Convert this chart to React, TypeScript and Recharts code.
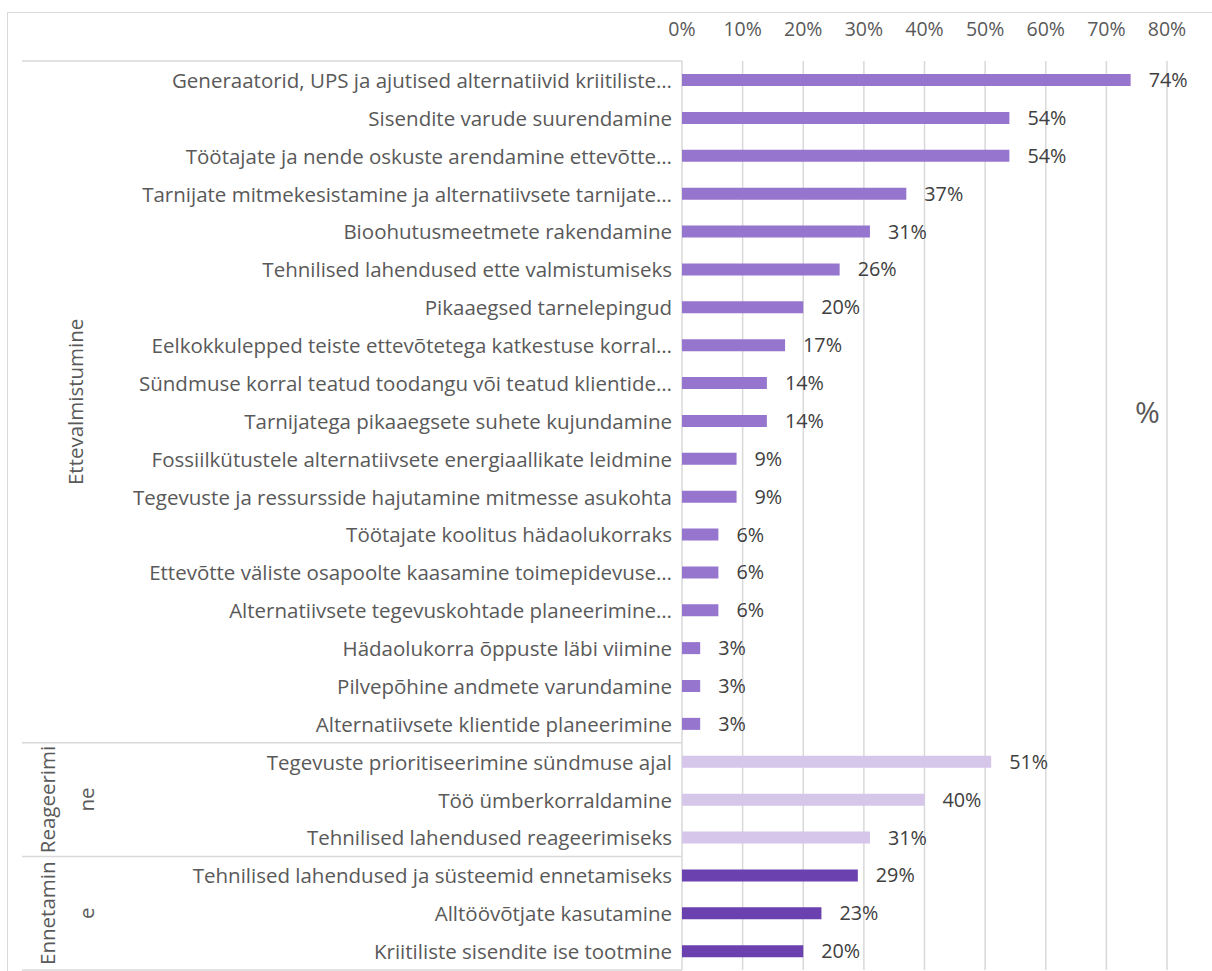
import React from 'react';
import { BarChart, Bar, XAxis, YAxis, CartesianGrid, Cell, LabelList } from 'recharts';

const categories = [
  'Generaatorid, UPS ja ajutised alternatiivid kriitiliste…',
  'Sisendite varude suurendamine ',
  'Töötajate ja nende oskuste arendamine ettevõtte…',
  'Tarnijate mitmekesistamine ja alternatiivsete tarnijate…',
  'Bioohutusmeetmete rakendamine',
  'Tehnilised lahendused ette valmistumiseks',
  'Pikaaegsed tarnelepingud',
  'Eelkokkulepped teiste ettevõtetega katkestuse korral…',
  'Sündmuse korral teatud toodangu või teatud klientide…',
  'Tarnijatega pikaaegsete suhete kujundamine',
  'Fossiilkütustele alternatiivsete energiaallikate leidmine',
  'Tegevuste ja ressursside hajutamine mitmesse asukohta',
  'Töötajate koolitus hädaolukorraks',
  'Ettevõtte väliste osapoolte kaasamine toimepidevuse…',
  'Alternatiivsete tegevuskohtade planeerimine…',
  'Hädaolukorra õppuste läbi viimine',
  'Pilvepõhine andmete varundamine',
  'Alternatiivsete klientide planeerimine',
  'Tegevuste prioritiseerimine sündmuse ajal',
  'Töö ümberkorraldamine',
  'Tehnilised lahendused reageerimiseks',
  'Tehnilised lahendused ja süsteemid ennetamiseks',
  'Alltöövõtjate kasutamine',
  'Kriitiliste sisendite ise tootmine',
];

const values = [
  0.74, 0.54, 0.54, 0.37, 0.31, 0.26, 0.2, 0.17, 0.14, 0.14, 0.09, 0.09,
  0.06, 0.06, 0.06, 0.03, 0.03, 0.03,
  0.51, 0.4, 0.31,
  0.29, 0.23, 0.2,
];

const groupLabels = [['Ettevalmistumine'], ['Reageerimi', 'ne'], ['Ennetamin', 'e']];
const groupSizes = [18, 3, 3];
const groupColors = ['#9575CD', '#D5C6EA', '#6A41AF'];
const xTicks = [0, 0.1, 0.2, 0.3, 0.4, 0.5, 0.6, 0.7, 0.8];

const W = 1212;
const H = 971;
const M_TOP = 21;
const X_AXIS_H = 40;
const M_BOTTOM = 1;
const Y_AXIS_W = 660;
const M_LEFT = 22;
const BAND = (H - M_TOP - X_AXIS_H - M_BOTTOM) / categories.length;
const FONT = "'Open Sans', sans-serif";
const TXT = '#595959';
const GRID = '#D9D9D9';
const CAT_FS = 20.5;

const groupStarts: number[] = [];
groupSizes.reduce((acc, s) => {
  groupStarts.push(acc);
  return acc + s;
}, 0);
const groupOfIndex: number[] = [];
groupSizes.forEach((s, g) => {
  for (let i = 0; i < s; i++) groupOfIndex.push(g);
});

const data = categories.map((c, i) => ({ name: c, value: values[i], group: groupOfIndex[i] }));

const pct = (v: number) => `${Math.round(v * 100)}%`;

const YTick = (props: any) => {
  const { x, y, payload } = props;
  const index = payload.index;
  const g = groupOfIndex[index];
  const isStart = groupStarts[g] === index;
  const isLast = index === categories.length - 1;
  const lineX1 = M_LEFT;
  const lineX2 = M_LEFT + Y_AXIS_W;
  const els: React.ReactNode[] = [];
  els.push(
    <text key="t" x={x} y={y} textAnchor="end" dominantBaseline="central" fill={TXT} fontSize={CAT_FS} fontFamily={FONT}>
      {payload.value}
    </text>
  );
  if (isStart) {
    const ly = y - BAND / 2;
    els.push(<line key="s" x1={lineX1} x2={lineX2} y1={ly} y2={ly} stroke={GRID} strokeWidth={1.5} />);
    const cy = y + ((groupSizes[g] - 1) / 2) * BAND;
    const lines = groupLabels[g];
    const xs = lines.length === 1 ? [75] : [47, 86];
    lines.forEach((ln, k) => {
      els.push(
        <text
          key={'g' + k}
          x={xs[k]}
          y={cy}
          transform={`rotate(-90 ${xs[k]} ${cy})`}
          textAnchor="middle"
          dominantBaseline="central"
          fill={TXT}
          fontSize={CAT_FS}
          fontFamily={FONT}
        >
          {ln}
        </text>
      );
    });
  }
  if (isLast) {
    const ly = y + BAND / 2;
    els.push(<line key="e" x1={lineX1} x2={lineX2} y1={ly} y2={ly} stroke={GRID} strokeWidth={1.5} />);
  }
  return <g>{els}</g>;
};

export default function App() {
  return (
    <div style={{ position: 'absolute', left: 0, top: 0, width: W, height: H, overflow: 'hidden', background: '#fff' }}>
      <div
        style={{
          position: 'absolute',
          left: 7,
          top: 12,
          width: W + 20,
          height: H + 20,
          border: `1px solid ${GRID}`,
        }}
      />
      <div style={{ position: 'absolute', left: 0, top: 0 }}>
        <BarChart
          width={W}
          height={H}
          data={data}
          layout="vertical"
          margin={{ top: M_TOP, right: 45, bottom: M_BOTTOM, left: M_LEFT }}
        >
          <CartesianGrid horizontal={false} vertical={true} stroke={GRID} strokeWidth={1.5} />
          <XAxis
            type="number"
            orientation="top"
            domain={[0, 0.8]}
            ticks={xTicks}
            tickFormatter={pct}
            axisLine={false}
            tickLine={false}
            height={X_AXIS_H}
            tickSize={0}
            tickMargin={25}
            tick={{ fill: TXT, fontSize: 19.5, fontFamily: FONT }}
            interval={0}
          />
          <YAxis
            type="category"
            dataKey="name"
            width={Y_AXIS_W}
            axisLine={false}
            tickLine={false}
            tickSize={0}
            tickMargin={10}
            interval={0}
            tick={<YTick />}
          />
          <Bar dataKey="value" barSize={12} isAnimationActive={false}>
            {data.map((d, i) => (
              <Cell key={i} fill={groupColors[d.group]} />
            ))}
            <LabelList
              dataKey="value"
              position="right"
              offset={18}
              formatter={(v: any) => pct(Number(v))}
              fill="#404040"
              fontSize={19.8}
              fontFamily={FONT}
            />
          </Bar>
        </BarChart>
      </div>
      <div
        style={{
          position: 'absolute',
          left: 1135,
          top: 394,
          fontFamily: FONT,
          fontSize: 30,
          color: TXT,
          lineHeight: '36px',
        }}
      >
        %
      </div>
    </div>
  );
}
